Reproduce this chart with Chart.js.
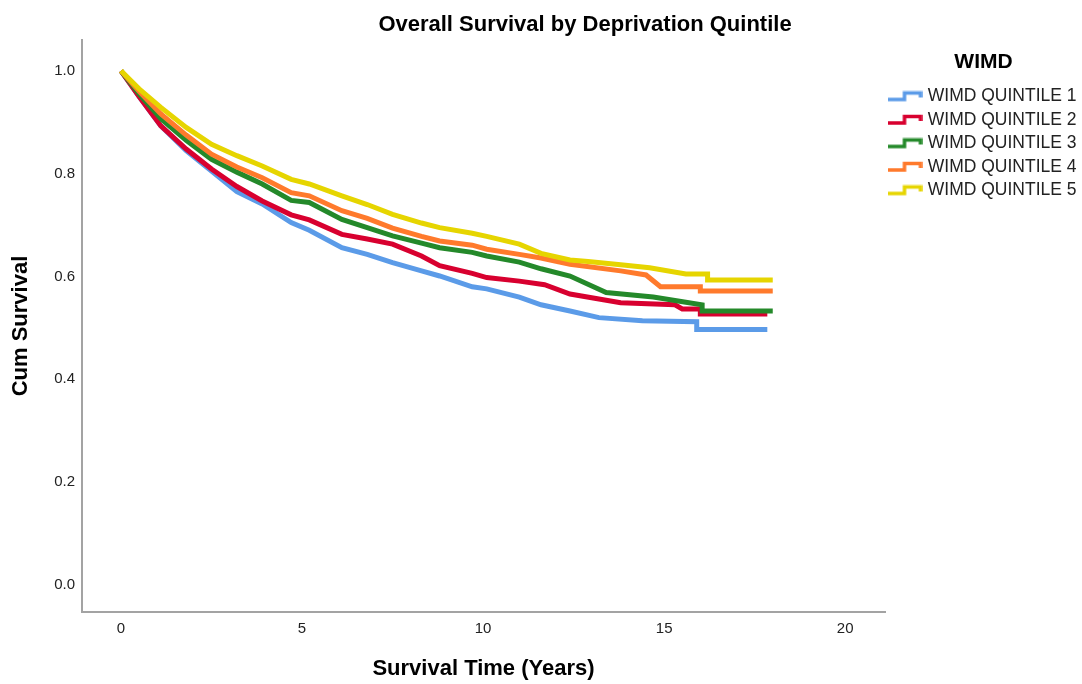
<!DOCTYPE html>
<html>
<head>
<meta charset="utf-8">
<script src="https://cdn.jsdelivr.net/npm/chart.js@4"></script>
<style>
  html, body { margin: 0; padding: 0; background: #fff; }
  #wrap { width: 1082px; height: 684px; position: relative; }
</style>
</head>
<body>
<div id="wrap"><canvas id="km-chart"></canvas></div>
<script>
// survival curves (years, cumulative survival)
const groupNames = ['WIMD QUINTILE 1', 'WIMD QUINTILE 2', 'WIMD QUINTILE 3', 'WIMD QUINTILE 4', 'WIMD QUINTILE 5'];
const groupColors = ['#5b9be8', '#d8002f', '#24892a', '#ff7a2c', '#e6d500'];

const q1Time = [0, 0.5, 1.1, 1.8, 2.5, 3.2, 3.9, 4.7, 5.2, 6.1, 6.8, 7.5, 8.3, 8.8, 9.7, 10.1, 11.0, 11.6, 12.4, 13.2, 14.4, 15.9, 15.9, 17.85];
const q1Surv = [1.0, 0.95, 0.893, 0.845, 0.805, 0.765, 0.741, 0.705, 0.69, 0.656, 0.643, 0.627, 0.611, 0.601, 0.58, 0.576, 0.56, 0.545, 0.533, 0.52, 0.514, 0.512, 0.497, 0.497];

const q2Time = [0, 0.5, 1.1, 1.8, 2.5, 3.2, 3.9, 4.7, 5.2, 6.1, 6.8, 7.5, 8.3, 8.8, 9.7, 10.1, 11.0, 11.7, 12.4, 13.8, 15.3, 15.5, 16.0, 16.0, 17.85];
const q2Surv = [1.0, 0.95, 0.893, 0.848, 0.809, 0.775, 0.747, 0.72, 0.71, 0.682, 0.673, 0.663, 0.64, 0.621, 0.606, 0.598, 0.591, 0.584, 0.566, 0.549, 0.545, 0.537, 0.537, 0.527, 0.527];

const q3Time = [0, 0.5, 1.1, 1.8, 2.5, 3.2, 3.9, 4.7, 5.2, 6.1, 6.8, 7.5, 8.3, 8.8, 9.7, 10.1, 11.0, 11.6, 12.4, 13.4, 14.7, 15.6, 16.05, 16.05, 18.0];
const q3Surv = [1.0, 0.955, 0.907, 0.865, 0.828, 0.803, 0.78, 0.748, 0.744, 0.711, 0.695, 0.679, 0.665, 0.656, 0.647, 0.64, 0.628, 0.615, 0.601, 0.569, 0.56, 0.55, 0.545, 0.533, 0.533];

const q4Time = [0, 0.5, 1.1, 1.8, 2.5, 3.2, 3.9, 4.7, 5.2, 6.1, 6.8, 7.5, 8.3, 8.8, 9.7, 10.1, 11.0, 11.6, 12.4, 13.8, 14.5, 14.9, 16.0, 16.0, 18.0];
const q4Surv = [1.0, 0.96, 0.916, 0.875, 0.838, 0.813, 0.792, 0.763, 0.757, 0.728, 0.713, 0.694, 0.678, 0.669, 0.661, 0.653, 0.643, 0.636, 0.624, 0.611, 0.603, 0.58, 0.58, 0.572, 0.572];

const q5Time = [0, 0.5, 1.1, 1.8, 2.5, 3.2, 3.9, 4.7, 5.2, 6.1, 6.8, 7.5, 8.3, 8.8, 9.7, 10.1, 11.0, 11.6, 12.4, 12.9, 13.8, 14.6, 15.6, 16.2, 16.2, 18.0];
const q5Surv = [1.0, 0.965, 0.929, 0.89, 0.857, 0.835, 0.815, 0.789, 0.78, 0.757, 0.74, 0.721, 0.704, 0.695, 0.684, 0.678, 0.663, 0.645, 0.632, 0.629, 0.623, 0.617, 0.605, 0.605, 0.593, 0.593];

const xTicks = [0, 5, 10, 15, 20];
const yTicks = [0.0, 0.2, 0.4, 0.6, 0.8, 1.0];

const times = [q1Time, q2Time, q3Time, q4Time, q5Time];
const survs = [q1Surv, q2Surv, q3Surv, q4Surv, q5Surv];

// little step-shaped legend icon, like the SPSS one
function stepIcon(color) {
  const c = document.createElement('canvas');
  c.width = 35; c.height = 12;
  const g = c.getContext('2d');
  g.strokeStyle = color;
  g.lineWidth = 3.5;
  g.lineJoin = 'miter';
  g.beginPath();
  g.moveTo(0, 9);
  g.lineTo(17, 9);
  g.lineTo(17, 2.5);
  g.lineTo(33, 2.5);
  g.lineTo(33, 7);
  g.stroke();
  return c;
}

const datasets = groupNames.map((name, i) => ({
  label: name,
  data: times[i].map((t, j) => ({ x: t, y: survs[i][j] })),
  borderColor: groupColors[i],
  backgroundColor: groupColors[i],
  borderWidth: 5,
  pointRadius: 0,
  pointHoverRadius: 0,
  pointStyle: stepIcon(groupColors[i]),
  tension: 0,
  fill: false,
  order: groupNames.length - 1 - i
}));

const fixedBoxes = {
  id: 'fixedBoxes',
  beforeUpdate(chart) {
    const lg = chart.legend;
    if (lg && !lg._patched) {
      const fit = lg.fit;
      lg.fit = function () { fit.call(this); this.width = 197; };
      lg._patched = true;
    }
  },
  afterDraw(chart) {
    const ctx = chart.ctx;
    ctx.save();
    ctx.fillStyle = '#000';
    ctx.font = 'bold 22px "Liberation Sans", Arial, sans-serif';
    ctx.textAlign = 'center';
    ctx.textBaseline = 'middle';
    ctx.fillText('Overall Survival by Deprivation Quintile', 585, 25);
    ctx.restore();
  }
};

const chart = new Chart(document.getElementById('km-chart'), {
  type: 'line',
  data: { datasets },
  options: {
    responsive: true,
    maintainAspectRatio: false,
    animation: false,
    devicePixelRatio: 1,
    layout: { padding: { top: 40, left: 0, right: 0, bottom: 0 } },
    plugins: {
      title: { display: false },
      tooltip: { enabled: false },
      legend: {
        position: 'right',
        align: 'start',
        labels: {
          usePointStyle: true,
          pointStyleWidth: 28,
          padding: 6,
          color: '#222',
          font: { family: '"Liberation Sans", Arial, sans-serif', size: 17.5 },
          sort: (a, b) => a.datasetIndex - b.datasetIndex
        },
        title: {
          display: true,
          text: 'WIMD',
          color: '#000',
          font: { family: '"Liberation Sans", Arial, sans-serif', size: 21, weight: 'bold' },
          padding: { top: 12, bottom: 4.5 }
        }
      }
    },
    scales: {
      x: {
        type: 'linear',
        min: -1.077,
        max: 21.1,
        afterBuildTicks: s => { s.ticks = xTicks.map(v => ({ value: v })); },
        afterFit: s => { s.height = 72; },
        grid: { display: false, drawTicks: false },
        border: { display: true, color: '#a3a3a3', width: 2 },
        ticks: {
          padding: 8,
          color: '#222',
          maxRotation: 0,
          autoSkip: false,
          font: { family: '"Liberation Sans", Arial, sans-serif', size: 15 }
        },
        title: {
          display: true,
          text: 'Survival Time (Years)',
          color: '#000',
          font: { family: '"Liberation Sans", Arial, sans-serif', size: 22, weight: 'bold' },
          padding: { top: 0, bottom: 2 }
        }
      },
      y: {
        type: 'linear',
        min: -0.0525,
        max: 1.06,
        afterBuildTicks: s => { s.ticks = yTicks.map(v => ({ value: v })); },
        afterFit: s => { s.width = 82; },
        grid: { display: false, drawTicks: false },
        border: { display: true, color: '#a3a3a3', width: 2 },
        ticks: {
          padding: 7,
          color: '#222',
          callback: v => Number(v).toFixed(1),
          font: { family: '"Liberation Sans", Arial, sans-serif', size: 15 }
        },
        title: {
          display: true,
          text: 'Cum Survival',
          color: '#000',
          font: { family: '"Liberation Sans", Arial, sans-serif', size: 22, weight: 'bold' },
          padding: { top: 8, bottom: 0 }
        }
      }
    }
  },
  plugins: [fixedBoxes]
});
</script>
</body>
</html>
